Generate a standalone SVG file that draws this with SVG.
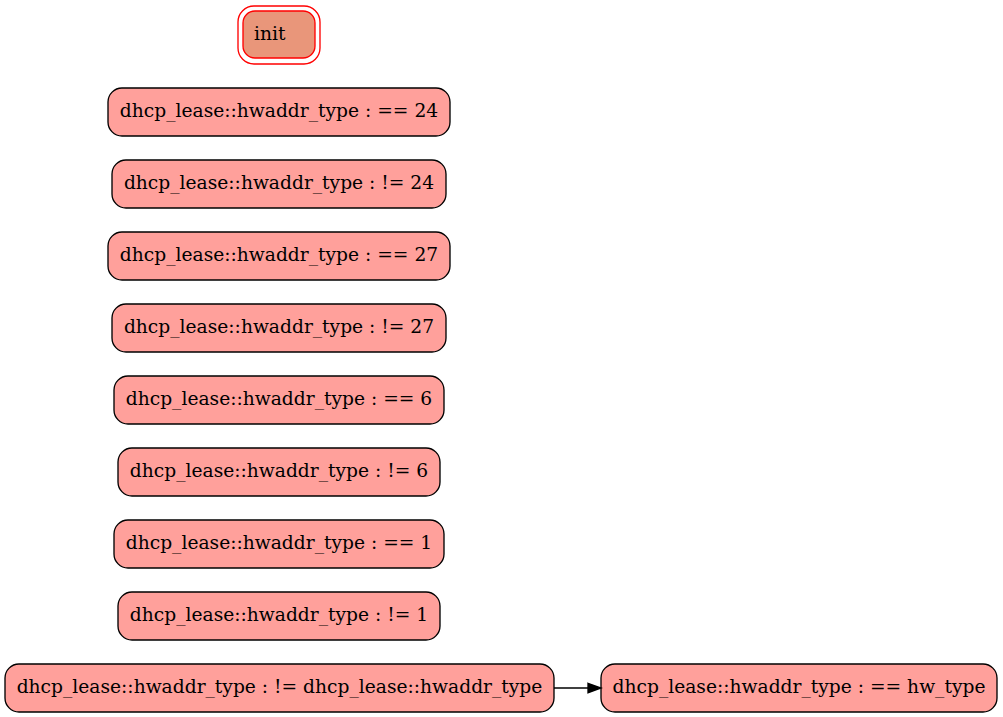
<svg xmlns="http://www.w3.org/2000/svg" width="1003" height="717" viewBox="0 0 1003 717">
<style>
.n rect{fill:#ffa09b;stroke:#000;stroke-width:1.33}
text{font-family:"DejaVu Serif",serif;font-size:18.67px;fill:#000;text-anchor:middle}
.e{stroke:#000;stroke-width:1.33;fill:none}
</style>
<rect width="1003" height="717" fill="#fff"/>
<g id="init">
<rect x="238" y="6" width="82" height="58" rx="16" ry="16" fill="none" stroke="#ff0000" stroke-width="1.33"/>
<rect x="243" y="11" width="72" height="47" rx="12" ry="12" fill="#e9967a" stroke="#ff0000" stroke-width="1.33"/>
<text x="254" y="40" style="text-anchor:start">init</text>
</g>
<g id="n1" class="n"><rect x="108" y="88" width="342" height="48" rx="14"/><text x="279" y="117">dhcp_lease::hwaddr_type : == 24</text></g>
<g id="n2" class="n"><rect x="112" y="160" width="334" height="48" rx="14"/><text x="279" y="189">dhcp_lease::hwaddr_type : != 24</text></g>
<g id="n3" class="n"><rect x="108" y="232" width="342" height="48" rx="14"/><text x="279" y="261">dhcp_lease::hwaddr_type : == 27</text></g>
<g id="n4" class="n"><rect x="112" y="304" width="334" height="48" rx="14"/><text x="279" y="333">dhcp_lease::hwaddr_type : != 27</text></g>
<g id="n5" class="n"><rect x="114" y="376" width="330" height="48" rx="14"/><text x="279" y="405">dhcp_lease::hwaddr_type : == 6</text></g>
<g id="n6" class="n"><rect x="118" y="448" width="322" height="48" rx="14"/><text x="279" y="477">dhcp_lease::hwaddr_type : != 6</text></g>
<g id="n7" class="n"><rect x="114" y="520" width="330" height="48" rx="14"/><text x="279" y="549">dhcp_lease::hwaddr_type : == 1</text></g>
<g id="n8" class="n"><rect x="118" y="592" width="322" height="48" rx="14"/><text x="279" y="621">dhcp_lease::hwaddr_type : != 1</text></g>
<g id="n9" class="n"><rect x="5" y="664" width="549" height="48" rx="14"/><text x="279.5" y="693">dhcp_lease::hwaddr_type : != dhcp_lease::hwaddr_type</text></g>
<g id="n10" class="n"><rect x="601" y="664" width="396" height="48" rx="14"/><text x="799" y="693">dhcp_lease::hwaddr_type : == hw_type</text></g>
<g id="edges">
<path class="e" d="M554,688 L588,688"/>
<polygon points="588,683.3 601,688 588,692.7" fill="#000" stroke="#000" stroke-width="1.33"/>
</g>
</svg>
